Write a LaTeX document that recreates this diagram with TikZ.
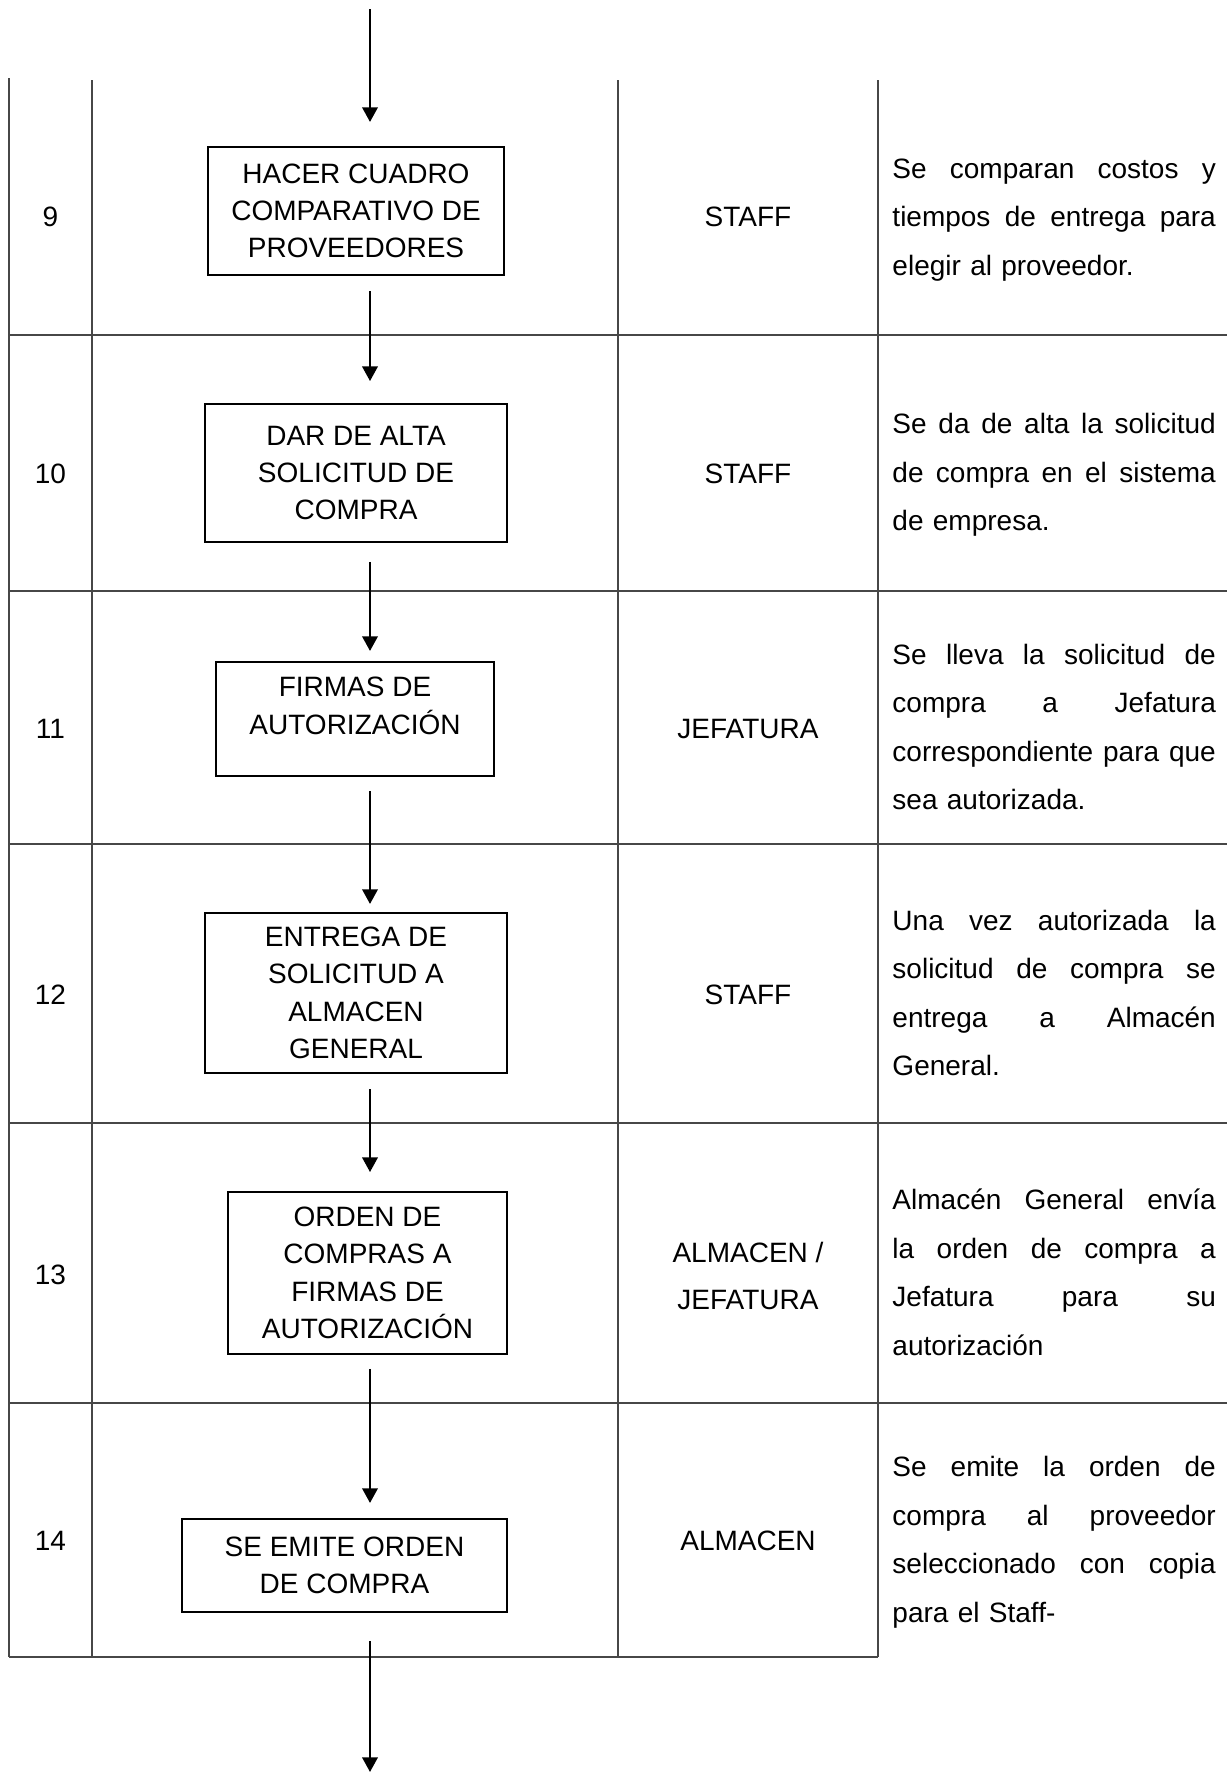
\documentclass[tikz,border=0pt]{standalone}
\usepackage{fontspec}
\setmainfont{Liberation Sans}
\usetikzlibrary{arrows.meta,calc}

% width of the justified description column
\newlength\desw
\setlength\desw{138.6pt}
% one fully justified line (interword spaces made stretchable again)
\newcommand\jline[1]{\makebox[\desw][s]{\spaceskip=0pt\xspaceskip=0pt #1}}

\begin{document}
\begin{tikzpicture}[x=0.4286pt,y=-0.4286pt,
  grid/.style={draw=black!72, line width=0.8pt},
  stepbox/.style={draw, line width=0.85pt, inner sep=0pt, align=center,
    font=\fontsize{12}{16}\selectfont},
  lbl/.style={inner sep=0pt, align=center, font=\fontsize{12}{20.5}\selectfont},
  desc/.style={inner sep=0pt, anchor=base west, align=left, text width=\desw,
    font=\fontsize{12}{20.79}\selectfont},
  arr/.style={line width=1.05pt, -{Triangle[length=6.3pt,width=6.6pt]}}]

\useasboundingbox (0,0) rectangle (1227,1773);

% table frame
\draw[grid] (9,78) -- (9,1657);
\draw[grid] (92,80) -- (92,1657);
\draw[grid] (618,80) -- (618,1657);
\draw[grid] (878,80) -- (878,1657);
\foreach \y in {335,591,844,1123,1403}
  \draw[grid] (9,\y) -- (1227,\y);
\draw[grid] (9,1657) -- (878,1657);

% process steps
\node[stepbox, minimum width=126.9pt, minimum height=54.9pt] (b9) at (356,211)
  {HACER CUADRO\\COMPARATIVO DE\\PROVEEDORES};
\node[stepbox, minimum width=129.4pt, minimum height=59.1pt] (b10) at (356,473)
  {DAR DE ALTA\\SOLICITUD DE\\COMPRA};
\node[stepbox, minimum width=119.2pt, minimum height=48.9pt] (b11) at (355,719)
  {FIRMAS DE\\AUTORIZACIÓN\\[-4.6pt]\mbox{}};
\node[stepbox, minimum width=129.4pt, minimum height=68.6pt] (b12) at (356,993)
  {ENTREGA DE\\SOLICITUD A\\ALMACEN\\GENERAL};
\node[stepbox, minimum width=119.6pt, minimum height=69.4pt] (b13) at (367.5,1273)
  {ORDEN DE\\COMPRAS A\\FIRMAS DE\\AUTORIZACIÓN};
\node[stepbox, minimum width=139.3pt, minimum height=39.9pt] (b14) at (344.5,1565.5)
  {SE EMITE ORDEN\\DE COMPRA};

% step numbers
\node[lbl] (n9)  at (50.5,217) {9};
\node[lbl] (n10) at (50.5,474) {10};
\node[lbl] (n11) at (50.5,729) {11};
\node[lbl] (n12) at (50.5,995) {12};
\node[lbl] (n13) at (50.5,1275) {13};
\node[lbl] (n14) at (50.5,1541) {14};

% responsible area
\node[lbl] (r9)  at (748,217) {STAFF};
\node[lbl] (r10) at (748,474) {STAFF};
\node[lbl] (r11) at (748,729) {JEFATURA};
\node[lbl] (r12) at (748,995) {STAFF};
\node[lbl] (r13) at (748,1276) {ALMACEN /\\JEFATURA};
\node[lbl] (r14) at (748,1541) {ALMACEN};

% descriptions
\node[desc] (d9) at (892,178)
  {\jline{Se comparan costos y}\\\jline{tiempos de entrega para}\\elegir al proveedor.};
\node[desc] (d10) at (892,433.7)
  {\jline{Se da de alta la solicitud}\\\jline{de compra en el sistema}\\de empresa.};
\node[desc] (d11) at (892,664.4)
  {\jline{Se lleva la solicitud de}\\\jline{compra a Jefatura}\\\jline{correspondiente para que}\\sea autorizada.};
\node[desc] (d12) at (892,930.2)
  {\jline{Una vez autorizada la}\\\jline{solicitud de compra se}\\\jline{entrega a Almacén}\\General.};
\node[desc] (d13) at (892,1209.5)
  {\jline{Almacén General envía}\\\jline{la orden de compra a}\\\jline{Jefatura para su}\\autorización};
\node[desc] (d14) at (892,1476.5)
  {\jline{Se emite la orden de}\\\jline{compra al proveedor}\\\jline{seleccionado con copia}\\para el Staff-};

% flow connectors
\coordinate (ax) at (370,0);
\coordinate (start) at (370,9);
\coordinate (finish) at (370,1772);
\draw[arr] (start) -- ($(b9.north -| ax)+(0,-24)$);
\draw[arr] ($(b9.south -| ax)+(0,15)$) -- ($(b10.north -| ax)+(0,-22)$);
\draw[arr] ($(b10.south -| ax)+(0,19)$) -- ($(b11.north -| ax)+(0,-10)$);
\draw[arr] ($(b11.south -| ax)+(0,14)$) -- ($(b12.north -| ax)+(0,-8)$);
\draw[arr] ($(b12.south -| ax)+(0,15)$) -- ($(b13.north -| ax)+(0,-19)$);
\draw[arr] ($(b13.south -| ax)+(0,14)$) -- ($(b14.north -| ax)+(0,-15)$);
\draw[arr] ($(b14.south -| ax)+(0,28)$) -- (finish);

\end{tikzpicture}
\end{document}
